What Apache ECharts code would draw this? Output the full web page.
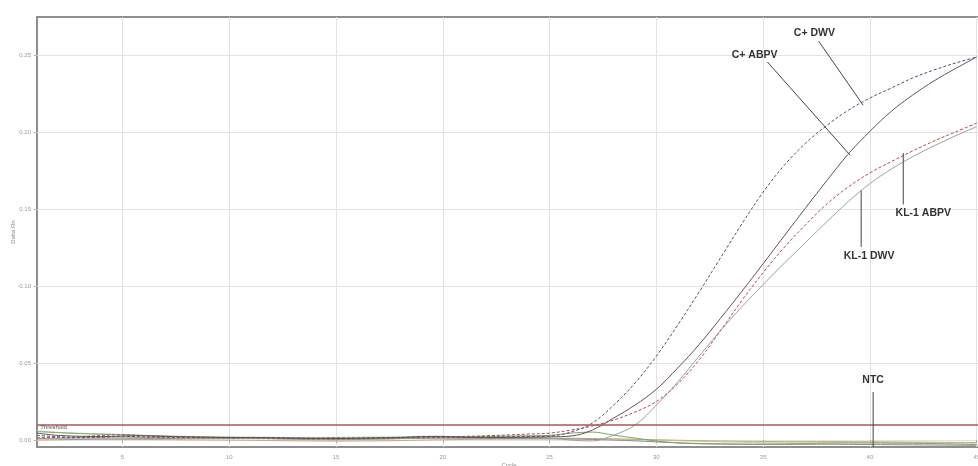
<!DOCTYPE html>
<html><head><meta charset="utf-8">
<script src="https://cdn.jsdelivr.net/npm/echarts@6/dist/echarts.min.js"></script>
<style>html,body{margin:0;padding:0;background:#fff}#c{width:978px;height:466px}</style>
</head><body><div id="c"></div>
<script>
var cycles = [1,2,3,4,5,6,7,8,9,10,11,12,13,14,15,16,17,18,19,20,21,22,23,24,25,26,27,28,29,30,31,32,33,34,35,36,37,38,39,40,41,42,43,44,45];
var xTicks = [5,10,15,20,25,30,35,40,45];
var yTicks = [0,0.05,0.10,0.15,0.20,0.25];
var threshold = 0.0123;

var cDWV = [0.0030,0.0022,0.0015,0.0018,0.0024,0.0021,0.0019,0.0017,0.0015,0.0014,0.0016,0.0015,0.0013,0.0012,0.0014,0.0013,0.0015,0.0017,0.0020,0.0019,0.0018,0.0020,0.0021,0.0023,0.0026,0.0052,0.0110,0.0227,0.0370,0.0545,0.0747,0.0961,0.1182,0.1403,0.1610,0.1786,0.1929,0.2045,0.2143,0.2221,0.2286,0.2351,0.2403,0.2448,0.2487];
var cABPV = [0.0045,0.0030,0.0025,0.0022,0.0026,0.0028,0.0024,0.0021,0.0018,0.0016,0.0017,0.0015,0.0012,0.0011,0.0010,0.0011,0.0013,0.0015,0.0022,0.0024,0.0018,0.0016,0.0017,0.0019,0.0021,0.0026,0.0065,0.0143,0.0227,0.0330,0.0468,0.0620,0.0790,0.0965,0.1145,0.1328,0.1510,0.1688,0.1860,0.2005,0.2135,0.2240,0.2332,0.2412,0.2487];
var klABPV = [0.0015,0.0018,0.0022,0.0030,0.0034,0.0028,0.0022,0.0020,0.0018,0.0016,0.0014,0.0013,0.0010,0.0008,0.0007,0.0009,0.0012,0.0015,0.0018,0.0020,0.0024,0.0028,0.0033,0.0039,0.0045,0.0065,0.0091,0.0130,0.0182,0.0250,0.0365,0.0520,0.0710,0.0905,0.1088,0.1253,0.1400,0.1535,0.1645,0.1735,0.1808,0.1877,0.1942,0.2000,0.2058];
var klDWV = [0.0008,0.0012,0.0016,0.0020,0.0019,0.0017,0.0015,0.0013,0.0012,0.0011,0.0010,0.0008,0.0005,0.0003,0.0002,0.0004,0.0006,0.0010,0.0014,0.0016,0.0015,0.0017,0.0018,0.0016,0.0013,0.0000,-0.0006,0.0032,0.0097,0.0227,0.0377,0.0545,0.0710,0.0865,0.1010,0.1150,0.1285,0.1420,0.1550,0.1665,0.1760,0.1840,0.1910,0.1975,0.2035];
var ntcA = [0.0055,0.0048,0.0042,0.0038,0.0035,0.0030,0.0026,0.0022,0.0020,0.0018,0.0016,0.0015,0.0014,0.0013,0.0013,0.0014,0.0016,0.0018,0.0021,0.0023,0.0022,0.0024,0.0026,0.0028,0.0030,0.0045,0.0052,0.0032,0.0013,-0.0006,-0.0018,-0.0024,-0.0026,-0.0027,-0.0026,-0.0025,-0.0022,-0.0020,-0.0019,-0.0019,-0.0020,-0.0021,-0.0023,-0.0026,-0.0030];
var ntcB = [0.0010,0.0008,0.0006,0.0007,0.0008,0.0009,0.0010,0.0011,0.0012,0.0012,0.0011,0.0010,0.0008,0.0006,0.0005,0.0006,0.0008,0.0009,0.0011,0.0012,0.0012,0.0011,0.0010,0.0009,0.0008,0.0007,0.0004,0.0000,-0.0005,-0.0012,-0.0018,-0.0022,-0.0025,-0.0027,-0.0028,-0.0028,-0.0027,-0.0027,-0.0028,-0.0029,-0.0030,-0.0031,-0.0032,-0.0033,-0.0034];
var wellC = [0.0060,0.0050,0.0045,0.0040,0.0036,0.0030,0.0026,0.0024,0.0022,0.0020,0.0019,0.0018,0.0016,0.0015,0.0017,0.0019,0.0020,0.0021,0.0025,0.0023,0.0020,0.0019,0.0018,0.0016,0.0014,0.0012,0.0010,0.0008,0.0004,0.0000,-0.0004,-0.0008,-0.0012,-0.0015,-0.0017,-0.0018,-0.0018,-0.0017,-0.0016,-0.0016,-0.0017,-0.0018,-0.0019,-0.0020,-0.0021];
var wellD = [0.0000,0.0002,0.0004,0.0006,0.0005,0.0004,0.0003,0.0002,0.0001,0.0000,-0.0001,-0.0003,-0.0005,-0.0006,-0.0007,-0.0006,-0.0005,-0.0003,0.0000,0.0002,0.0004,0.0005,0.0006,0.0007,0.0008,0.0009,0.0010,0.0008,0.0005,0.0002,-0.0001,-0.0004,-0.0006,-0.0008,-0.0009,-0.0010,-0.0010,-0.0010,-0.0011,-0.0011,-0.0012,-0.0013,-0.0014,-0.0015,-0.0016];

// annotations: text, text anchor [cycle, value], leader from [cycle,value] to [cycle,value]
var annText = ['C+ DWV','C+ ABPV','KL-1 ABPV','KL-1 DWV','NTC'];
var annPos = [[37.4,0.2643],[34.6,0.2500],[42.5,0.1474],[39.96,0.1195],[40.15,0.0390]];
var annFrom = [[37.6,0.2590],[35.2,0.2455],[41.56,0.1530],[39.59,0.1255],[40.15,0.0312]];
var annTo = [[39.68,0.2175],[39.07,0.1850],[41.56,0.1864],[39.59,0.1620],[40.15,-0.0045]];

function pairs(arr){ return cycles.map(function(c,i){ return [c, arr[i]]; }); }

var chart = echarts.init(document.getElementById('c'), null, {renderer:'canvas'});
function line(name, data, color, type, width){
  return {name:name, type:'line', data:pairs(data), symbol:'none', smooth:0.35,
    lineStyle:{color:color, width:width||1, type:type||'solid'}, silent:true, z:3};
}
var series = [
  line('Well C', wellC, '#b9d9a6'),
  line('Well D', wellD, '#c9a878'),
  line('NTC B', ntcB, '#8c8c8c'),
  line('NTC', ntcA, '#7fa36a'),
  line('KL-1 DWV', klDWV, '#9aa39a'),
  line('KL-1 ABPV', klABPV, '#b5475a', [3,2]),
  line('C+ ABPV', cABPV, '#6b4f5c'),
  line('C+ DWV', cDWV, '#4a5670', [3,2])
];
series[0].markLine = {silent:true, symbol:'none', label:{show:false},
  lineStyle:{color:'#a5585a', width:1.5, type:'solid'}, data:[{yAxis:threshold}]};

chart.setOption({
  animation:false,
  backgroundColor:'#fff',
  grid:{left:37, right:-3, top:17, bottom:19, show:true, borderColor:'#8e8e8e', borderWidth:2, backgroundColor:'#fff',
    outerBoundsMode:'none', containLabel:false},
  xAxis:{type:'value', min:1, max:45.2, name:'Cycle', nameLocation:'middle', nameGap:15, nameMoveOverlap:false,
    nameTextStyle:{fontSize:6, color:'#888', fontFamily:'Liberation Sans'},
    axisLine:{show:false},
    axisTick:{show:true, customValues:xTicks, length:3, lineStyle:{color:'#aaa'}},
    axisLabel:{customValues:xTicks, fontSize:6, color:'#999', margin:7, fontFamily:'Liberation Sans'},
    splitLine:{show:true, lineStyle:{color:'#e2e2e2', width:1}}},
  yAxis:{type:'value', min:-0.0045, max:0.2747, name:'Delta Rn', nameLocation:'middle', nameGap:21, nameRotate:90, nameMoveOverlap:false,
    nameTextStyle:{fontSize:6, color:'#888', fontFamily:'Liberation Sans'},
    axisLine:{show:false},
    axisTick:{show:true, customValues:yTicks, length:3, lineStyle:{color:'#aaa'}},
    axisLabel:{customValues:yTicks, fontSize:6, color:'#999', margin:6, fontFamily:'Liberation Sans',
      formatter:function(v){return v.toFixed(2);}},
    splitLine:{show:true, lineStyle:{color:'#e2e2e2', width:1}}},
  series:series
});

var g = [];
for (var i=0;i<annText.length;i++){
  var p = chart.convertToPixel({gridIndex:0}, annPos[i]);
  var a = chart.convertToPixel({gridIndex:0}, annFrom[i]);
  var b = chart.convertToPixel({gridIndex:0}, annTo[i]);
  g.push({type:'line', shape:{x1:a[0],y1:a[1],x2:b[0],y2:b[1]}, style:{stroke:'#444', lineWidth:1}, z:10});
  g.push({type:'text', x:p[0], y:p[1], style:{text:annText[i], fill:'#333', font:'bold 10.5px "Liberation Sans", Arial', align:'center', verticalAlign:'middle'}, z:11});
}
var tp = chart.convertToPixel({gridIndex:0}, [1.15, threshold]);
g.push({type:'text', x:tp[0], y:tp[1]+3, style:{text:'Threshold', fill:'#555', font:'6px "Liberation Sans", Arial', align:'left', verticalAlign:'top'}, z:11});
chart.setOption({graphic:g});
</script></body></html>
